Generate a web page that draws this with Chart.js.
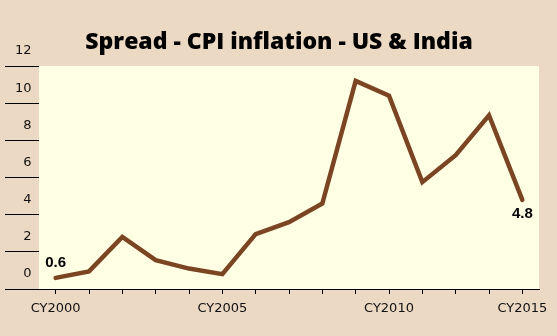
<!DOCTYPE html>
<html>
<head>
<meta charset="utf-8">
<script src="https://cdn.jsdelivr.net/npm/chart.js@4"></script>
<style>
  html, body { margin:0; padding:0; background:#EBD9C3; }
  #wrap { width:557px; height:336px; position:relative; }
</style>
</head>
<body>
<div id="wrap"><canvas id="c" width="557" height="336"></canvas></div>
<script>
const categories = ["CY2000","CY2001","CY2002","CY2003","CY2004","CY2005","CY2006","CY2007","CY2008","CY2009","CY2010","CY2011","CY2012","CY2013","CY2014"];
const tickLabels = ["CY2000","","","","","CY2005","","","","","CY2010","","","","CY2015"];
const spread = [0.6, 0.95, 2.8, 1.55, 1.1, 0.8, 2.95, 3.6, 4.6, 11.2, 10.4, 5.75, 7.2, 9.35, 4.8];
const yTicks = [0, 2, 4, 6, 8, 10, 12];
const titleText = "Spread - CPI inflation - US & India";
const labelledPoints = [{i:0, text:"0.6", dy:-15}, {i:14, text:"4.8", dy:14}];

const bgPlugin = {
  id: 'bgPlugin',
  beforeDraw(chart) {
    const {ctx, chartArea: a} = chart;
    ctx.save();
    ctx.fillStyle = '#EBD9C3';
    ctx.fillRect(0, 0, chart.width, chart.height);
    ctx.fillStyle = '#FFFFE4';
    ctx.fillRect(a.left, a.top, a.right - a.left, a.bottom - a.top);
    ctx.restore();
  }
};

const pointLabels = {
  id: 'pointLabels',
  afterDatasetsDraw(chart) {
    const {ctx} = chart;
    const meta = chart.getDatasetMeta(0);
    ctx.save();
    ctx.font = 'bold 15px "Liberation Sans", Arial, sans-serif';
    ctx.fillStyle = '#000';
    ctx.textAlign = 'center';
    ctx.textBaseline = 'middle';
    labelledPoints.forEach(p => {
      const el = meta.data[p.i];
      ctx.fillText(p.text, el.x, el.y + p.dy);
    });
    ctx.restore();
  }
};

new Chart(document.getElementById('c'), {
  type: 'line',
  data: {
    labels: categories,
    datasets: [{
      data: spread,
      borderColor: '#7B4422',
      borderWidth: 4.5,
      pointRadius: 0,
      tension: 0,
      fill: false,
      borderJoinStyle: 'miter',
      borderCapStyle: 'round'
    }]
  },
  options: {
    responsive: false,
    animation: false,
    layout: { padding: { left: 19, right: 18, top: 0, bottom: 0 } },
    plugins: {
      legend: { display: false },
      tooltip: { enabled: false },
      title: {
        display: true,
        text: titleText,
        color: '#000',
        font: { family: '"Open Sans", Lato, sans-serif', size: 23, weight: '800', lineHeight: 1.2 },
        padding: { top: 29, bottom: 9.4 }
      }
    },
    scales: {
      x: {
        type: 'category',
        offset: true,
        grid: { display: true, drawOnChartArea: false, drawTicks: true, tickLength: 5, color: '#000', lineWidth: 1 },
        border: { display: true, color: '#000', width: 1 },
        ticks: {
          autoSkip: false,
          maxRotation: 0,
          padding: 7,
          color: '#111',
          font: { family: '"DejaVu Sans", sans-serif', size: 13 },
          callback: (v, i) => tickLabels[i]
        },
        afterFit(scale) { scale.height = 336 - 289; }
      },
      y: {
        min: 0,
        max: 12,
        afterBuildTicks(scale) { scale.ticks = yTicks.map(v => ({value: v})); },
        grid: { display: true, drawOnChartArea: false, drawTicks: true, tickLength: 34, color: '#000', lineWidth: 1 },
        border: { display: false },
        ticks: {
          mirror: true,
          crossAlign: 'far',
          padding: -24,
          labelOffset: -15,
          color: '#111',
          font: { family: '"DejaVu Sans", sans-serif', size: 13 }
        },
        afterFit(scale) { scale.width = 20; }
      }
    }
  },
  plugins: [bgPlugin, pointLabels]
});
</script>
</body>
</html>
